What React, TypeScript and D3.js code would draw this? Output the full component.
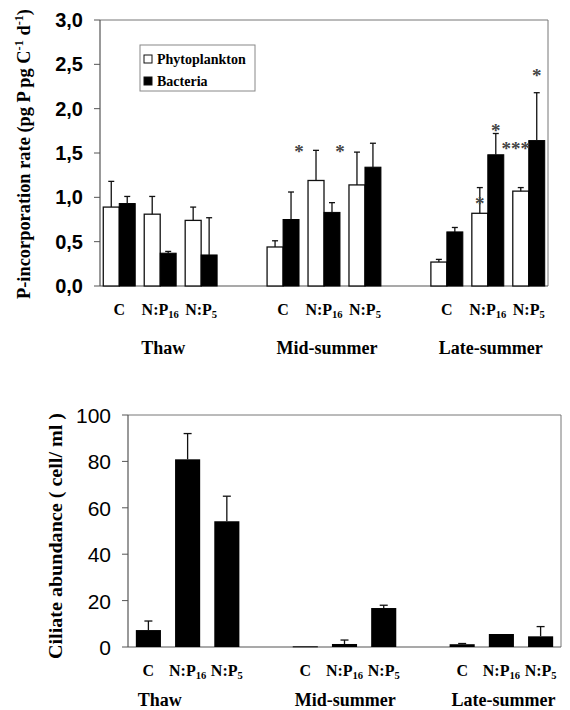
import React from "react";
import * as d3 from "d3";

const SEASONS = ["Thaw", "Mid-summer", "Late-summer"];
const TREATMENTS = [
  { key: "C", base: "C", sub: "" },
  { key: "N:P16", base: "N:P", sub: "16" },
  { key: "N:P5", base: "N:P", sub: "5" },
];
const SERIES = ["Phytoplankton", "Bacteria"];

// P-incorporation rate, order: Thaw C, N:P16, N:P5, Mid C, ..., Late N:P5
const PHYTO_RATE = [0.89, 0.81, 0.74, 0.44, 1.19, 1.14, 0.27, 0.82, 1.07];
const PHYTO_SD = [0.29, 0.2, 0.15, 0.07, 0.34, 0.37, 0.03, 0.29, 0.04];
const BACT_RATE = [0.93, 0.37, 0.35, 0.75, 0.83, 1.34, 0.61, 1.48, 1.64];
const BACT_SD = [0.08, 0.02, 0.42, 0.31, 0.11, 0.27, 0.05, 0.24, 0.54];

// ciliate abundance (cell/ml)
const CILIATES = [7.3, 80.9, 54.2, 0.3, 1.3, 16.8, 1.2, 5.6, 4.6];
const CILIATES_SD = [3.9, 11.1, 10.8, 0, 1.7, 1.2, 0.3, 0, 4.2];

const TOP_TICKS = [0, 0.5, 1, 1.5, 2, 2.5, 3];
const BOTTOM_TICKS = [0, 20, 40, 60, 80, 100];

// significance marks
const STARS = [
  { season: "Mid-summer", treatment: "C", series: "Bacteria", edge: "right", value: 1.57, text: "*" },
  { season: "Mid-summer", treatment: "N:P16", series: "Bacteria", edge: "right", value: 1.57, text: "*" },
  { season: "Late-summer", treatment: "N:P16", series: "Phytoplankton", edge: "center", value: 0.98, text: "*" },
  { season: "Late-summer", treatment: "N:P16", series: "Bacteria", edge: "center", value: 1.8, text: "*" },
  { season: "Late-summer", treatment: "N:P5", series: "Phytoplankton", edge: "left", value: 1.6, text: "***" },
  { season: "Late-summer", treatment: "N:P5", series: "Bacteria", edge: "center", value: 2.43, text: "*" },
];

const SERIF = "'Liberation Serif', 'Times New Roman', serif";
const SANS = "'Liberation Sans', Arial, sans-serif";

const slotKeys = SEASONS.flatMap((s, i) => [
  ...TREATMENTS.map((t) => `${s}|${t.key}`),
  ...(i < SEASONS.length - 1 ? [`gap${i}`] : []),
]);

const cells = SEASONS.flatMap((s) => TREATMENTS.map((t) => ({ season: s, treatment: t })));

const fmtComma = (v: number) => d3.format(".1f")(v).replace(".", ",");

function TreatmentLabel({ x, y, t, size }: { x: number; y: number; t: any; size: number }) {
  return (
    <text x={x} y={y} textAnchor="middle" fontFamily={SERIF} fontWeight="bold" fontSize={size}>
      {t.base}
      {t.sub && (
        <tspan fontSize={size * 0.66} dy={3}>
          {t.sub}
        </tspan>
      )}
    </text>
  );
}

function ErrorBar({ x, y0, y1, cap }: { x: number; y0: number; y1: number; cap: number }) {
  if (Math.abs(y0 - y1) < 0.5) return null;
  return (
    <g stroke="#111" strokeWidth={1.3}>
      <line x1={x} x2={x} y1={y0} y2={y1} />
      <line x1={x - cap / 2} x2={x + cap / 2} y1={y1} y2={y1} />
    </g>
  );
}

function TopChart() {
  const L = 100, R = 548, T = 20, B = 286;
  const x = d3.scaleBand<string>().domain(slotKeys).range([L, R]).paddingInner(0.22).paddingOuter(0.08);
  const xs = d3.scaleBand<string>().domain(SERIES).range([0, x.bandwidth()]);
  const y = d3.scaleLinear().domain([0, 3]).range([B, T]);
  const barX = (season: string, tr: string, series: string) => x(`${season}|${tr}`)! + xs(series)!;
  const bw = xs.bandwidth();

  return (
    <g>
      {/* frame */}
      <path d={`M${L},${T}H${R}V${B}`} fill="none" stroke="#777" strokeWidth={1} />
      <line x1={L} x2={L} y1={T} y2={B} stroke="#555" strokeWidth={1.2} />
      <line x1={L} x2={R} y1={B} y2={B} stroke="#555" strokeWidth={1.2} />
      {TOP_TICKS.map((t) => (
        <g key={t}>
          <line x1={L - 6} x2={L} y1={y(t)} y2={y(t)} stroke="#555" />
          <text x={L - 17} y={y(t) + 7} textAnchor="end" fontFamily={SANS} fontWeight="bold" fontSize={20}>
            {fmtComma(t)}
          </text>
        </g>
      ))}
      <text
        transform={`translate(30,${(T + B) / 2 + 1}) rotate(-90)`}
        textAnchor="middle"
        fontFamily={SERIF}
        fontWeight="bold"
        fontSize={18}
        textLength={290}
        lengthAdjust="spacingAndGlyphs"
      >
        P-incorporation rate (pg P  pg C
        <tspan fontSize={12} dy={-7}>-1</tspan>
        <tspan dy={7}> d</tspan>
        <tspan fontSize={12} dy={-7}>-1</tspan>
        <tspan dy={7}>)</tspan>
      </text>

      {cells.map((c, i) => {
        const px = barX(c.season, c.treatment.key, "Phytoplankton");
        const bx = barX(c.season, c.treatment.key, "Bacteria");
        return (
          <g key={i}>
            <rect x={px} y={y(PHYTO_RATE[i])} width={bw} height={B - y(PHYTO_RATE[i])} fill="#fff" stroke="#111" strokeWidth={1.3} />
            <rect x={bx} y={y(BACT_RATE[i])} width={bw} height={B - y(BACT_RATE[i])} fill="#000" stroke="#000" strokeWidth={1} />
            <ErrorBar x={px + bw / 2} y0={y(PHYTO_RATE[i])} y1={y(PHYTO_RATE[i] + PHYTO_SD[i])} cap={6} />
            <ErrorBar x={bx + bw / 2} y0={y(BACT_RATE[i])} y1={y(BACT_RATE[i] + BACT_SD[i])} cap={6} />
          </g>
        );
      })}

      {STARS.map((s, i) => {
        const bx = barX(s.season, s.treatment, s.series);
        const cx = s.edge === "left" ? bx + 3 : s.edge === "right" ? bx + bw : bx + bw / 2;
        return (
          <text key={i} x={cx} y={y(s.value) + 11} textAnchor="middle" fontFamily={SERIF} fontWeight="bold" fontSize={19} fill="#444">
            {s.text}
          </text>
        );
      })}

      {cells.map((c, i) => (
        <TreatmentLabel key={i} x={x(`${c.season}|${c.treatment.key}`)! + x.bandwidth() / 2} y={315} t={c.treatment} size={16} />
      ))}
      {SEASONS.map((s) => {
        const a = x(`${s}|${TREATMENTS[0].key}`)!;
        const b = x(`${s}|${TREATMENTS[TREATMENTS.length - 1].key}`)! + x.bandwidth();
        return (
          <text key={s} x={(a + b) / 2 + 3} y={354} textAnchor="middle" fontFamily={SERIF} fontWeight="bold" fontSize={18}>
            {s}
          </text>
        );
      })}

      {/* legend */}
      <g>
        <rect x={140} y={45} width={115} height={46} fill="#fff" stroke="#888" strokeWidth={1} />
        {SERIES.map((s, i) => (
          <g key={s}>
            <rect x={144} y={55 + i * 22} width={8} height={8} fill={i === 0 ? "#fff" : "#000"} stroke="#111" strokeWidth={1} />
            <text x={157} y={64 + i * 22} fontFamily={SERIF} fontWeight="bold" fontSize={14}>
              {s}
            </text>
          </g>
        ))}
      </g>
    </g>
  );
}

function BottomChart() {
  const L = 128, R = 561, T = 415, B = 647;
  const x = d3.scaleBand<string>().domain(slotKeys).range([L, R]).paddingInner(0.36).paddingOuter(0.2);
  const y = d3.scaleLinear().domain([0, 100]).range([B, T]);
  const bw = x.bandwidth();

  return (
    <g>
      <path d={`M${L},${T}H${R}V${B}`} fill="none" stroke="#777" strokeWidth={1} />
      <line x1={L} x2={L} y1={T} y2={B} stroke="#555" strokeWidth={1.2} />
      <line x1={L} x2={R} y1={B} y2={B} stroke="#555" strokeWidth={1.2} />
      {BOTTOM_TICKS.map((t) => (
        <g key={t}>
          <line x1={L - 6} x2={L} y1={y(t)} y2={y(t)} stroke="#555" />
          <text x={L - 17} y={y(t) + 8} textAnchor="end" fontFamily={SANS} fontSize={21}>
            {t}
          </text>
        </g>
      ))}
      <text
        transform={`translate(62,${(T + B) / 2 + 5}) rotate(-90)`}
        textAnchor="middle"
        fontFamily={SERIF}
        fontWeight="bold"
        fontSize={19}
        textLength={246}
        lengthAdjust="spacingAndGlyphs"
      >
        Ciliate abundance ( cell/ ml )
      </text>

      {cells.map((c, i) => {
        const bx = x(`${c.season}|${c.treatment.key}`)!;
        const top = y(CILIATES[i]);
        return (
          <g key={i}>
            <rect x={bx} y={top} width={bw} height={Math.max(B - top, 1)} fill="#000" />
            <ErrorBar x={bx + bw / 2} y0={top} y1={y(CILIATES[i] + CILIATES_SD[i])} cap={8} />
          </g>
        );
      })}

      {cells.map((c, i) => (
        <TreatmentLabel key={i} x={x(`${c.season}|${c.treatment.key}`)! + bw / 2} y={676} t={c.treatment} size={16} />
      ))}
      {SEASONS.map((s) => (
        <text key={s} x={x(`${s}|${TREATMENTS[0].key}`)! + 2} y={706} fontFamily={SERIF} fontWeight="bold" fontSize={18}>
          {s}
        </text>
      ))}
    </g>
  );
}

export default function App() {
  return (
    <svg
      width={570}
      height={710}
      style={{ position: "absolute", left: 0, top: 0, background: "#fff" }}
    >
      <rect width={570} height={710} fill="#fff" />
      <TopChart />
      <BottomChart />
    </svg>
  );
}
